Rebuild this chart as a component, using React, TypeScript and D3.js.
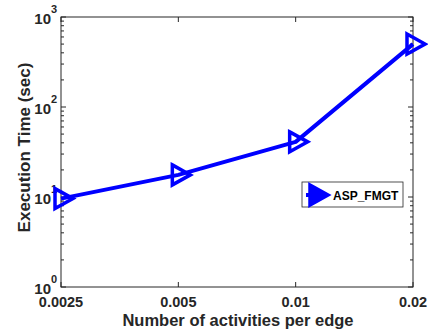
import React from "react";
import * as d3 from "d3";

// Execution time (seconds) for each activity density
const categories = ["0.0025", "0.005", "0.01", "0.02"];
const execTimes = [9.6, 17.6, 41, 500];
const yTickExponents = [0, 1, 2, 3];
const seriesName = "ASP_FMGT";
const xTitle = "Number of activities per edge";
const yTitle = "Execution Time (sec)";

const W = 428;
const H = 335;
const M = { left: 61, right: 413, top: 17, bottom: 287 };
const AXIS = "#262626";
const BLUE = "#0000ff";
const FONT = "'Liberation Sans', Arial, Helvetica, sans-serif";

const x = d3.scalePoint<string>().domain(categories).range([M.left, M.right]);
const y = d3.scaleLog().domain([1, 1000]).range([M.bottom, M.top]);

// Right-pointing triangle marker centred on the data point
const tri = (cx: number, cy: number) =>
  `M${cx - 6},${cy - 10}L${cx + 12},${cy}L${cx - 6},${cy + 10}Z`;

export default function App() {
  const majors = yTickExponents.map((e) => Math.pow(10, e));
  const minors: number[] = [];
  for (let i = 0; i < yTickExponents.length - 1; i++) {
    const base = Math.pow(10, yTickExponents[i]);
    for (let k = 2; k <= 9; k++) minors.push(k * base);
  }
  const line = d3
    .line<number>()
    .x((_, i) => x(categories[i]) as number)
    .y((d) => y(d));

  return (
    <svg
      width={W}
      height={H}
      style={{ position: "absolute", left: 0, top: 0, background: "#fff" }}
      fontFamily={FONT}
      fontWeight="bold"
    >
      {/* axes box */}
      <rect
        x={M.left}
        y={M.top}
        width={M.right - M.left}
        height={M.bottom - M.top}
        fill="#fff"
        stroke={AXIS}
        strokeWidth={1}
      />
      {/* y ticks, both sides */}
      {majors.map((v) => (
        <g key={"ma" + v} stroke={AXIS} strokeWidth={1}>
          <line x1={M.left} x2={M.left + 5} y1={y(v)} y2={y(v)} />
          <line x1={M.right} x2={M.right - 5} y1={y(v)} y2={y(v)} />
        </g>
      ))}
      {minors.map((v) => (
        <g key={"mi" + v} stroke={AXIS} strokeWidth={1}>
          <line x1={M.left} x2={M.left + 3} y1={y(v)} y2={y(v)} />
          <line x1={M.right} x2={M.right - 3} y1={y(v)} y2={y(v)} />
        </g>
      ))}
      {/* x ticks, bottom and top */}
      {categories.map((c) => (
        <g key={"xt" + c} stroke={AXIS} strokeWidth={1}>
          <line x1={x(c)} x2={x(c)} y1={M.bottom} y2={M.bottom - 5} />
          <line x1={x(c)} x2={x(c)} y1={M.top} y2={M.top + 5} />
        </g>
      ))}
      {/* y tick labels */}
      {yTickExponents.map((e) => {
        const yy = y(Math.pow(10, e));
        return (
          <g key={"yl" + e} fill={AXIS}>
            <text x={51} y={yy + 7} fontSize={15} textAnchor="end">
              10
            </text>
            <text x={51} y={yy - 4.5} fontSize={11} textAnchor="start">
              {e}
            </text>
          </g>
        );
      })}
      {/* x tick labels */}
      {categories.map((c) => (
        <text
          key={"xl" + c}
          x={x(c)}
          y={307}
          fontSize={14.5}
          textAnchor="middle"
          fill={AXIS}
        >
          {c}
        </text>
      ))}
      {/* axis titles */}
      <text x={238} y={326} fontSize={16.5} textAnchor="middle" fill={AXIS}>
        {xTitle}
      </text>
      <text
        transform={`translate(30,147.5) rotate(-90)`}
        fontSize={17}
        textAnchor="middle"
        fill={AXIS}
      >
        {yTitle}
      </text>
      {/* series */}
      <path
        d={line(execTimes) || ""}
        fill="none"
        stroke={BLUE}
        strokeWidth={4}
        strokeLinejoin="round"
      />
      {execTimes.map((v, i) => (
        <path
          key={"mk" + i}
          d={tri(x(categories[i]) as number, y(v))}
          fill="none"
          stroke={BLUE}
          strokeWidth={3.5}
          strokeLinejoin="miter"
        />
      ))}
      {/* legend */}
      <rect x={302} y={182} width={101} height={25} fill="#fff" stroke={AXIS} strokeWidth={0.8} />
      <line x1={306} x2={326} y1={195} y2={195} stroke={BLUE} strokeWidth={4} />
      <path d={tri(316, 195)} fill={BLUE} stroke={BLUE} strokeWidth={3.5} />
      <text x={333} y={199.5} fontSize={12} fill="#000">
        {seriesName}
      </text>
    </svg>
  );
}
